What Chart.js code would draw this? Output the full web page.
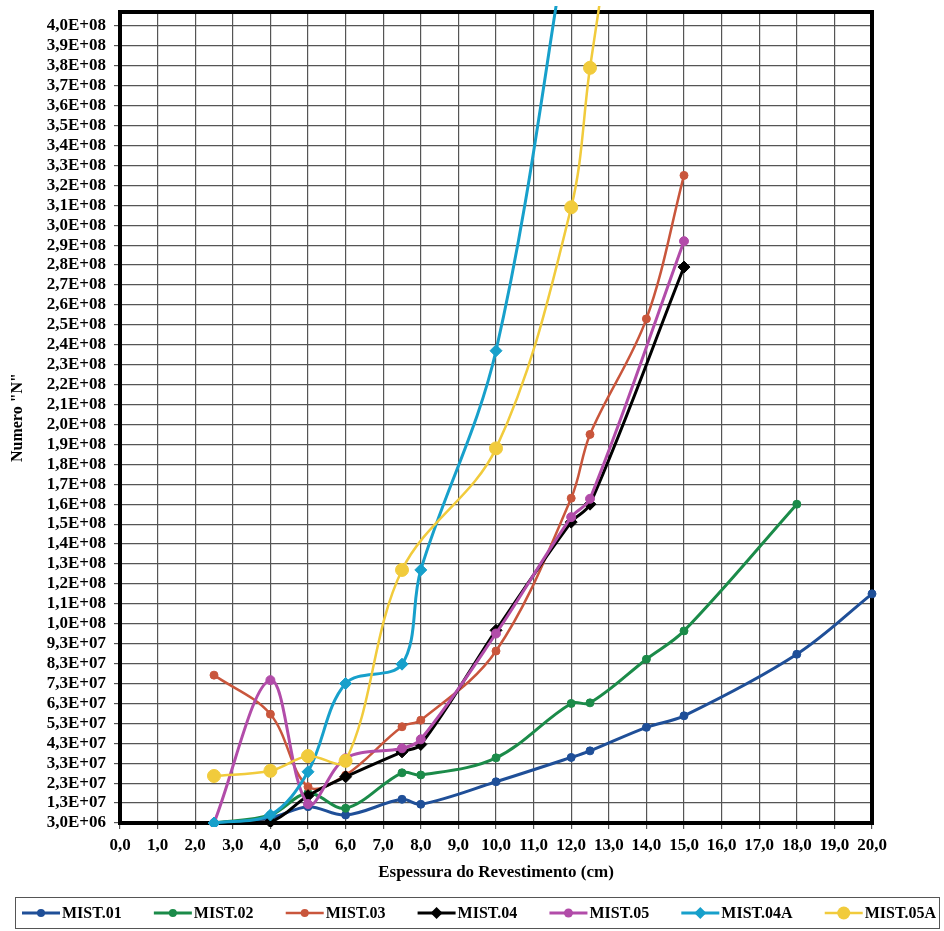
<!DOCTYPE html>
<html>
<head>
<meta charset="utf-8">
<script src="https://cdn.jsdelivr.net/npm/chart.js@4.4.1/dist/chart.umd.min.js"></script>
<style>
  html, body { margin: 0; padding: 0; background: #ffffff; }
  #wrap { width: 944px; height: 931px; position: relative; }
</style>
</head>
<body>
<div id="wrap"><canvas id="chart" width="944" height="931"></canvas></div>
<script>
// Series names and colours
const seriesNames  = ['MIST.01', 'MIST.02', 'MIST.03', 'MIST.04', 'MIST.05', 'MIST.04A', 'MIST.05A'];
const seriesColors = ['#1f4f98', '#1b8b49', '#c9563c', '#000000', '#b24ca9', '#17a0cb', '#f1cb3c'];

// Espessura do revestimento (cm) and Numero "N" for each mixture
const mist01X  = [2.5, 4, 5, 6, 7.5, 8, 10, 12, 12.5, 14, 15, 18, 20];
const mist01Y  = [3.0e6, 5.5e6, 1.12e7, 7.0e6, 1.49e7, 1.24e7, 2.37e7, 3.59e7, 3.92e7, 5.10e7, 5.68e7, 8.77e7, 1.18e8];

const mist02X  = [2.5, 4, 5, 6, 7.5, 8, 10, 12, 12.5, 14, 15, 18];
const mist02Y  = [3.0e6, 7.0e6, 1.8e7, 1.04e7, 2.82e7, 2.71e7, 3.57e7, 6.30e7, 6.33e7, 8.52e7, 9.94e7, 1.63e8];

const mist03X  = [2.5, 4, 5, 6, 7.5, 8, 10, 12, 12.5, 14, 15];
const mist03Y  = [7.72e7, 5.76e7, 2.12e7, 2.70e7, 5.13e7, 5.46e7, 8.93e7, 1.66e8, 1.98e8, 2.56e8, 3.28e8];

const mist04X  = [2.5, 4, 5, 6, 7.5, 8, 10, 12, 12.5, 15];
const mist04Y  = [3.0e6, 3.6e6, 1.67e7, 2.62e7, 3.87e7, 4.24e7, 9.97e7, 1.54e8, 1.63e8, 2.82e8];

const mist05X  = [2.5, 4, 5, 6, 7.5, 8, 10, 12, 12.5, 15];
const mist05Y  = [3.0e6, 7.47e7, 1.25e7, 3.55e7, 4.05e7, 4.50e7, 9.81e7, 1.565e8, 1.657e8, 2.95e8];

const mist04AX = [2.5, 4, 5, 6, 7.5, 8, 10, 12];
const mist04AY = [3.0e6, 7.0e6, 2.87e7, 7.30e7, 8.27e7, 1.30e8, 2.40e8, 4.60e8];

const mist05AX = [2.5, 4, 5, 6, 7.5, 10, 12, 12.5, 14];
const mist05AY = [2.66e7, 2.92e7, 3.66e7, 3.42e7, 1.30e8, 1.91e8, 3.12e8, 3.82e8, 5.70e8];

// Axis ticks
const xTickStep  = 1;
const yTickStart = 3.0e6;
const yTickStep  = 1.0e7;
const yTickCount = 41;

const seriesX = [mist01X, mist02X, mist03X, mist04X, mist05X, mist04AX, mist05AX];
const seriesY = [mist01Y, mist02Y, mist03Y, mist04Y, mist05Y, mist04AY, mist05AY];
const markerStyles = ['circle', 'circle', 'circle', 'rectRot', 'circle', 'rectRot', 'circle'];
const markerRadii  = [4, 4, 4, 6, 4.5, 6, 6.5];
const lineWidths   = [3, 3, 2.5, 3, 3, 3, 2.5];

const yTickValues = [];
for (let k = 0; k < yTickCount; k++) yTickValues.push(yTickStart + k * yTickStep);

const serif = '"Liberation Serif", "Times New Roman", serif';

function sciLabel(v) {
  const parts = Number(v).toExponential(1).split('e');
  const ex = parseInt(parts[1], 10);
  return parts[0].replace('.', ',') + 'E' + (ex < 0 ? '-' : '+') + String(Math.abs(ex)).padStart(2, '0');
}

const datasets = seriesNames.map((name, i) => ({
  label: name,
  data: seriesX[i].map((x, j) => ({ x: x, y: seriesY[i][j] })),
  borderColor: seriesColors[i],
  backgroundColor: seriesColors[i],
  pointBackgroundColor: seriesColors[i],
  pointBorderColor: seriesColors[i],
  borderWidth: lineWidths[i],
  pointStyle: markerStyles[i],
  pointRadius: markerRadii[i],
  pointBorderWidth: 1,
  tension: 0.35,
  order: seriesNames.length - i,
  clip: { left: 6, top: 6, right: 6, bottom: 4 }
}));

// Thick frame around the plotting area
const plotFrame = {
  id: 'plotFrame',
  beforeDatasetsDraw(chart) {
    const a = chart.chartArea;
    const ctx = chart.ctx;
    ctx.save();
    ctx.strokeStyle = '#000000';
    ctx.lineWidth = 4;
    ctx.strokeRect(a.left, a.top, a.right - a.left, a.bottom - a.top);
    ctx.restore();
  }
};

// Boxed legend: line segment with marker, followed by the series name
const boxedLegend = {
  id: 'boxedLegend',
  afterDraw(chart) {
    const ctx = chart.ctx;
    const sets = chart.data.datasets;
    ctx.save();
    ctx.strokeStyle = '#555555';
    ctx.lineWidth = 1;
    ctx.strokeRect(15.5, 897.5, 924, 31);
    ctx.font = 'bold 16px ' + serif;
    ctx.textBaseline = 'middle';
    ctx.textAlign = 'left';
    const y = 913;
    const lineLen = 38, textGap = 2;
    const widths = sets.map(d => ctx.measureText(d.label).width);
    const used = widths.reduce((a, b) => a + b, 0) + sets.length * (lineLen + textGap);
    const startX = 22, endX = 936;
    const gap = (endX - startX - used) / (sets.length - 1);
    let x = startX;
    sets.forEach((d, i) => {
      ctx.strokeStyle = d.borderColor;
      ctx.fillStyle = d.borderColor;
      ctx.lineWidth = d.borderWidth;
      ctx.beginPath();
      ctx.moveTo(x, y);
      ctx.lineTo(x + lineLen, y);
      ctx.stroke();
      const cx = x + lineLen / 2, r = d.pointRadius;
      ctx.beginPath();
      if (d.pointStyle === 'rectRot') {
        ctx.moveTo(cx, y - r); ctx.lineTo(cx + r, y); ctx.lineTo(cx, y + r); ctx.lineTo(cx - r, y); ctx.closePath();
      } else {
        ctx.arc(cx, y, r, 0, Math.PI * 2);
      }
      ctx.fill();
      ctx.fillStyle = '#000000';
      ctx.fillText(d.label, x + lineLen + textGap, y + 1);
      x += lineLen + textGap + widths[i] + gap;
    });
    ctx.restore();
  }
};

const gridColor = '#555555';
const tickFont = { family: serif, size: 17, weight: 'bold' };

new Chart(document.getElementById('chart').getContext('2d'), {
  type: 'line',
  data: { datasets: datasets },
  options: {
    responsive: false,
    animation: false,
    layout: { padding: { left: 6, top: 12, right: 72, bottom: 46 } },
    plugins: { legend: { display: false }, tooltip: { enabled: false } },
    scales: {
      x: {
        type: 'linear',
        min: 0,
        max: 20,
        ticks: {
          stepSize: xTickStep,
          autoSkip: false,
          maxRotation: 0,
          padding: 6,
          color: '#000000',
          font: tickFont,
          callback: v => Number(v).toFixed(1).replace('.', ',')
        },
        grid: { color: gridColor, lineWidth: 1.2, tickLength: 6 },
        border: { display: false },
        title: {
          display: true,
          text: 'Espessura do Revestimento (cm)',
          color: '#000000',
          font: { family: serif, size: 17, weight: 'bold' },
          padding: { top: 2, bottom: 2 }
        },
        afterFit: s => { s.height = 62; s.paddingLeft = 0; s.paddingRight = 0; }
      },
      y: {
        type: 'linear',
        min: 3.0e6,
        max: 4.1e8,
        afterBuildTicks: s => { s.ticks = yTickValues.map(v => ({ value: v })); },
        ticks: {
          autoSkip: false,
          padding: 8,
          color: '#000000',
          font: tickFont,
          callback: v => sciLabel(v)
        },
        grid: { color: gridColor, lineWidth: 1.2, tickLength: 6 },
        border: { display: false },
        title: {
          display: true,
          text: 'Numero "N"',
          color: '#000000',
          font: { family: serif, size: 16, weight: 'bold' },
          padding: { top: 2, bottom: 2 }
        },
        afterFit: s => { s.width = 114; s.paddingTop = 0; s.paddingBottom = 0; }
      }
    }
  },
  plugins: [plotFrame, boxedLegend]
});
</script>
</body>
</html>
